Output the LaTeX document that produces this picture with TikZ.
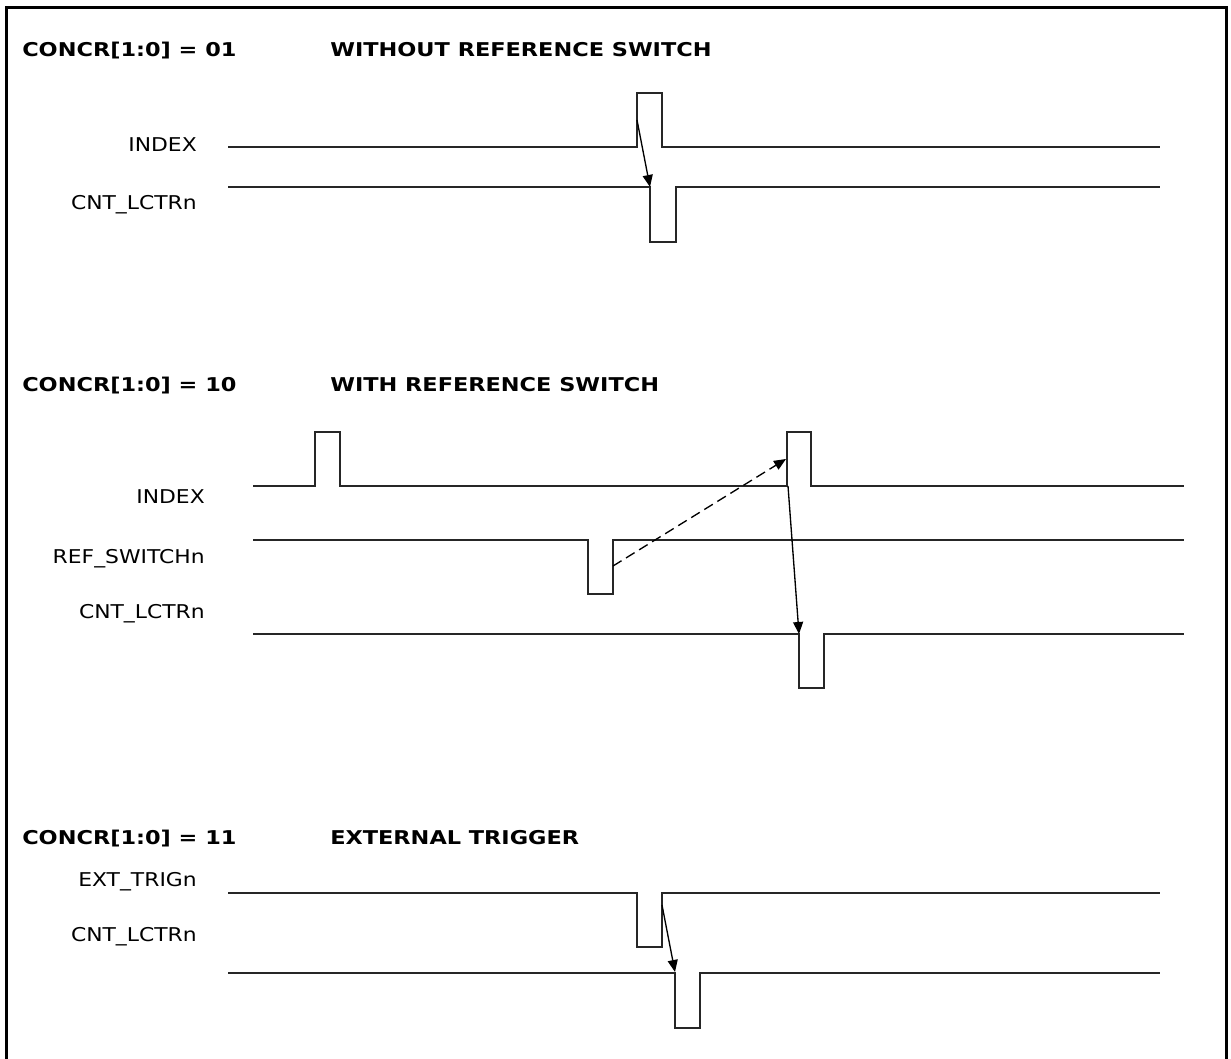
\documentclass[tikz,border=0pt]{standalone}
\usepackage{fontspec}
\usetikzlibrary{arrows.meta}
\newfontfamily\labfont[FakeStretch=1.15]{DejaVu Sans}
\newfontfamily\titfont[FakeStretch=1.18]{DejaVu Sans Bold}
\tikzset{
  lab/.style={anchor=east,inner sep=0pt,text height=10pt,text depth=0pt,font=\labfont\fontsize{14.25pt}{17pt}\selectfont},
  tit/.style={anchor=west,inner sep=0pt,text height=10pt,text depth=0pt,font=\titfont\fontsize{14.25pt}{17pt}\selectfont},
  wave/.style={line width=1.2pt,line join=miter,draw=black!85},
  arr/.style={line width=1pt,-{Triangle[length=9pt,width=7.5pt]},shorten >=0pt},
  darr/.style={arr,dash pattern=on 7.5pt off 4pt},
  frame/.style={line width=2.6pt}
}
\begin{document}
\begin{tikzpicture}[x=0.75pt,y=-0.75pt]
\useasboundingbox (0,0) rectangle (1231,1059);
\draw[frame] (6.5,1062) -- (6.5,7.5) -- (1226.5,7.5) -- (1226.5,1062);

% ---------- section 1 ----------
\node[tit] (t1a) at (22,50) {CONCR[1:0] = 01};
\node[tit] (t1b) at (330,50) {WITHOUT REFERENCE SWITCH};
\node[lab] (l1a) at (197,145) {INDEX};
\node[lab] (l1b) at (197,203) {CNT\_LCTRn};
\draw[wave] (228,147) -- (637,147) -- (637,93) -- (662,93) -- (662,147) -- (1160,147);
\draw[wave] (228,187) -- (650,187) -- (650,242) -- (676,242) -- (676,187) -- (1160,187);
\coordinate (a1s) at (637,120);
\coordinate (a1e) at (650,187);
\draw[arr] (a1s) -- (a1e);

% ---------- section 2 ----------
\node[tit] (t2a) at (22,385) {CONCR[1:0] = 10};
\node[tit] (t2b) at (330,385) {WITH REFERENCE SWITCH};
\node[lab] (l2a) at (205,497) {INDEX};
\node[lab] (l2b) at (205,557) {REF\_SWITCHn};
\node[lab] (l2c) at (205,612) {CNT\_LCTRn};
\draw[wave] (253,486) -- (315,486) -- (315,432) -- (340,432) -- (340,486) -- (787,486) -- (787,432) -- (811,432) -- (811,486) -- (1184,486);
\draw[wave] (253,540) -- (588,540) -- (588,594) -- (613,594) -- (613,540) -- (1184,540);
\draw[wave] (253,634) -- (799,634) -- (799,688) -- (824,688) -- (824,634) -- (1184,634);
\coordinate (a2s) at (613,566);
\coordinate (a2e) at (786,459);
\draw[darr] (a2s) -- (a2e);
\coordinate (a3s) at (788,486);
\coordinate (a3e) at (799,634);
\draw[arr] (a3s) -- (a3e);

% ---------- section 3 ----------
\node[tit] (t3a) at (22,838) {CONCR[1:0] = 11};
\node[tit] (t3b) at (330,838) {EXTERNAL TRIGGER};
\node[lab] (l3a) at (197,880) {EXT\_TRIGn};
\node[lab] (l3b) at (197,935) {CNT\_LCTRn};
\draw[wave] (228,893) -- (637,893) -- (637,947) -- (662,947) -- (662,893) -- (1160,893);
\draw[wave] (228,973) -- (675,973) -- (675,1028) -- (700,1028) -- (700,973) -- (1160,973);
\coordinate (a4s) at (662,905);
\coordinate (a4e) at (675,972);
\draw[arr] (a4s) -- (a4e);
\end{tikzpicture}
\end{document}
